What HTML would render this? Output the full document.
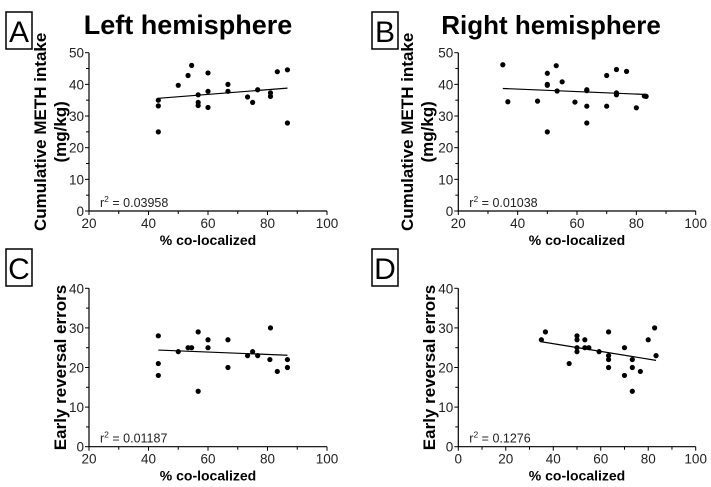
<!DOCTYPE html>
<html><head><meta charset="utf-8"><style>
body{margin:0;background:#fff}
svg{display:block;font-family:"Liberation Sans",Arial,sans-serif}
</style></head><body>
<svg id="fig" width="711" height="487" viewBox="0 0 711 487" xmlns="http://www.w3.org/2000/svg">
<text x="188" y="34" text-anchor="middle" font-size="27" font-weight="bold">Left hemisphere</text>
<text x="551" y="34" text-anchor="middle" font-size="26" font-weight="bold">Right hemisphere</text>
</svg>
<script>
const aX=[43.3,43.3,43.3,50,53.3,54.5,56.7,56.7,56.7,60,60,60,66.7,66.7,73.3,75,76.7,81,81,83.3,86.7,86.7];
const aY=[35,33.2,25,39.7,42.8,46,36.7,34.3,33.3,43.6,37.8,32.7,40,37.8,36,34.3,38.3,37.3,36.2,44,44.6,27.8];
const aFit=[[43.3,35.6],[86.7,38.8]];
const bX=[35,36.7,46.7,50,50,50,50,53,53.3,55,59.3,63.3,63.3,63.3,63.3,70,70,73.3,73.3,73.3,76.7,80,82.7,83.3];
const bY=[46.2,34.5,34.7,43.5,40,39.7,25,45.9,37.9,40.8,34.4,38.3,38,33.1,27.8,42.8,33.1,44.7,37.3,36.7,44.1,32.6,36.3,36.2];
const bFit=[[35,38.7],[83.3,36.8]];
const cX=[43.3,43.3,43.3,50,53.3,54.5,56.7,56.7,60,60,66.7,66.7,73.3,75,76.7,80.8,81,83.3,86.7,86.7];
const cY=[28,21,18,24,25,25,29,14,27,25,27,20,23,24,23,22,30,19,22,20];
const cFit=[[43.3,24.4],[86.7,23.1]];
const dX=[35,36.7,46.7,50,50,50,50,53.3,53.3,55,59.3,63.3,63.3,63.3,63.3,70,70,73.3,73.3,73.3,76.7,80,82.7,83.3];
const dY=[27,29,21,28,27,25,24,27,25,25,24,29,23,22,20,25,18,22,20,14,19,27,30,23];
const dFit=[[35,26.5],[83.3,21.8]];
const xTicksA=[20,40,60,80,100], xTicksD=[0,20,40,60,80,100];
const yTicksAB=[0,10,20,30,40,50], yTicksCD=[0,10,20,30,40];

const svg=document.getElementById('fig');
const NS='http://www.w3.org/2000/svg';
function mk(tag,attrs,parent){const e=document.createElementNS(NS,tag);for(const k in attrs)e.setAttribute(k,attrs[k]);(parent||svg).appendChild(e);return e;}

function panel(p){
  const g=mk('g',{});
  
  
  const sx=v=>p.x0+(v-p.xmin)/(p.xmax-p.xmin)*(p.x1-p.x0);
  const sy=v=>p.y0-(v-p.ymin)/(p.ymax-p.ymin)*(p.y0-p.y1);
  const bx=mk('rect',{x:p.bx,y:p.by,width:26,height:37,fill:'none',stroke:'#000','stroke-width':1.5},g);
  
  
  const lt=mk('text',{x:p.bx+13,y:p.by+30,'text-anchor':'middle','font-size':30},g);lt.textContent=p.id;
  
  
  const ax=mk('path',{d:`M${p.x0},${p.y1}V${p.y0}H${p.x1}`,fill:'none',stroke:'#000','stroke-width':1.2},g);
  
  
  const step=p.xt[1]-p.xt[0];
  p.xt.forEach((t,i)=>{
    mk('line',{x1:sx(t),x2:sx(t),y1:p.y0,y2:p.y0+4,stroke:'#000'},g);
    if(i<p.xt.length-1){mk('line',{x1:sx(t+step/2),x2:sx(t+step/2),y1:p.y0,y2:p.y0+3,stroke:'#000'},g);}
    const tx=mk('text',{x:sx(t),y:p.y0+17,'text-anchor':'middle','font-size':13.5,fill:'#222'},g);tx.textContent=t;
    
    
  });
  p.yt.forEach((t,i)=>{
    mk('line',{x1:p.x0-4,x2:p.x0,y1:sy(t),y2:sy(t),stroke:'#000'},g);
    if(i<p.yt.length-1){mk('line',{x1:p.x0-3,x2:p.x0,y1:sy(t+5),y2:sy(t+5),stroke:'#000'},g);}
    const ty=mk('text',{x:p.x0-5,y:sy(t)+5,'text-anchor':'end','font-size':13.5,fill:'#222'},g);ty.textContent=t;
    
    
  });
  const xl=mk('text',{x:(p.x0+p.x1)/2,y:p.y0+34,'text-anchor':'middle','font-size':14,'font-weight':'bold'},g);xl.textContent='% co-localized';
  
  
  p.ylab.forEach((s,i)=>{
    const cy=(p.y0+p.y1)/2, cx=p.ylx+i*p.ylg;
    const yl=mk('text',{x:cx,y:cy,'text-anchor':'middle','font-size':17,'font-weight':'bold',transform:`rotate(-90 ${cx} ${cy})`},g);yl.textContent=s;
    
    
  });
  const r=mk('text',{x:p.x0+11,y:p.y0-4,'font-size':12.5,fill:'#222'},g);
  r.innerHTML='r<tspan dy="-5" font-size="8.5">2</tspan><tspan dy="5"> = '+p.r2+'</tspan>';
  
  
  const fl=mk('line',{x1:sx(p.fit[0][0]),y1:sy(p.fit[0][1]),x2:sx(p.fit[1][0]),y2:sy(p.fit[1][1]),stroke:'#000','stroke-width':1.2},g);
  
  
  p.xs.forEach((v,i)=>{
    const c=mk('circle',{cx:sx(v),cy:sy(p.ys[i]),r:2.6,fill:'#000'},g);
    
    
  });
}
panel({id:'A',x0:89,x1:327,y0:211,y1:52.7,xmin:20,xmax:100,ymin:0,ymax:50,xt:xTicksA,yt:yTicksAB,xs:aX,ys:aY,fit:aFit,r2:'0.03958',bx:6,by:12,ylab:['Cumulative METH intake','(mg/kg)'],ylx:46,ylg:20});
panel({id:'B',x0:458.3,x1:695.7,y0:211,y1:52.7,xmin:20,xmax:100,ymin:0,ymax:50,xt:xTicksA,yt:yTicksAB,xs:bX,ys:bY,fit:bFit,r2:'0.01038',bx:372,by:12,ylab:['Cumulative METH intake','(mg/kg)'],ylx:413,ylg:20});
panel({id:'C',x0:89,x1:327,y0:446.7,y1:288.3,xmin:20,xmax:100,ymin:0,ymax:40,xt:xTicksA,yt:yTicksCD,xs:cX,ys:cY,fit:cFit,r2:'0.01187',bx:6,by:249,ylab:['Early reversal errors'],ylx:66,ylg:0});
panel({id:'D',x0:458.3,x1:695.7,y0:446.7,y1:288.3,xmin:0,xmax:100,ymin:0,ymax:40,xt:xTicksD,yt:yTicksCD,xs:dX,ys:dY,fit:dFit,r2:'0.1276',bx:372,by:249,ylab:['Early reversal errors'],ylx:435,ylg:0});
</script>
</body></html>
